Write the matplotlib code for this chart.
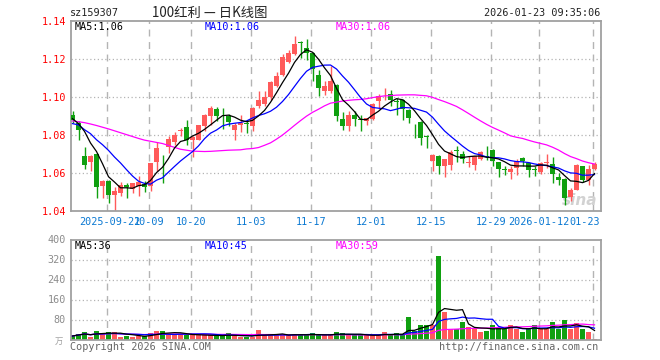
import numpy as np
import pandas as pd
import matplotlib
matplotlib.use("Agg")
import matplotlib.pyplot as plt

# daily candles (2025-09-12 .. 2026-01-23), index = trading day
opens = [1.0907, 1.0863, 1.0691, 1.0656, 1.0702, 1.0530, 1.0560, 1.0482, 1.0493, 1.0539,
         1.0516, 1.0530, 1.0544, 1.0530, 1.0656, 1.0691, 1.0735, 1.0765, 1.0820, 1.0842,
         1.0775, 1.0775, 1.0846, 1.0898, 1.0937, 1.0912, 1.0898, 1.0825, 1.0853, 1.0861,
         1.0846, 1.0954, 1.0965, 1.0998, 1.1056, 1.1118, 1.1182, 1.1226, 1.1290, 1.1258,
         1.1232, 1.1118, 1.1030, 1.1033, 1.1065, 1.0886, 1.0846, 1.0905, 1.0883, 1.0872,
         1.0886, 1.0977, 1.1019, 1.1018, 1.0979, 1.0986, 1.0933, 1.0855, 1.0867, 1.0795,
         1.0661, 1.0691, 1.0635, 1.0644, 1.0720, 1.0702, 1.0654, 1.0644, 1.0674, 1.0689,
         1.0723, 1.0656, 1.0619, 1.0604, 1.0626, 1.0679, 1.0653, 1.0619, 1.0604, 1.0654,
         1.0649, 1.0579, 1.0570, 1.0474, 1.0512, 1.0635, 1.0561, 1.0621]
highs = [1.0925, 1.0872, 1.0735, 1.0695, 1.0705, 1.0562, 1.0565, 1.0526, 1.0551, 1.0547,
         1.0550, 1.0582, 1.0556, 1.0655, 1.0763, 1.0693, 1.0793, 1.0818, 1.0838, 1.0877,
         1.0793, 1.0855, 1.0910, 1.0954, 1.0947, 1.0944, 1.0909, 1.0863, 1.0905, 1.0881,
         1.0946, 1.1030, 1.1030, 1.1082, 1.1132, 1.1226, 1.1249, 1.1319, 1.1296, 1.1305,
         1.1235, 1.1144, 1.1082, 1.1161, 1.1070, 1.0921, 1.0925, 1.0925, 1.0907, 1.0890,
         1.0968, 1.1018, 1.1047, 1.1035, 1.0995, 1.0988, 1.0935, 1.0856, 1.0872, 1.0802,
         1.0702, 1.0693, 1.0676, 1.0723, 1.0744, 1.0714, 1.0688, 1.0691, 1.0714, 1.0744,
         1.0725, 1.0658, 1.0635, 1.0635, 1.0674, 1.0684, 1.0656, 1.0635, 1.0656, 1.0700,
         1.0682, 1.0600, 1.0572, 1.0521, 1.0646, 1.0637, 1.0644, 1.0656]
lows = [1.0863, 1.0775, 1.0623, 1.0609, 1.0468, 1.0468, 1.0442, 1.0400, 1.0477, 1.0468,
        1.0495, 1.0477, 1.0498, 1.0507, 1.0609, 1.0547, 1.0705, 1.0749, 1.0795, 1.0749,
        1.0682, 1.0772, 1.0819, 1.0854, 1.0872, 1.0832, 1.0849, 1.0775, 1.0818, 1.0811,
        1.0819, 1.0942, 1.0951, 1.0986, 1.1051, 1.1112, 1.1179, 1.1223, 1.1205, 1.1196,
        1.1082, 1.1004, 1.1012, 1.1021, 1.0872, 1.0828, 1.0819, 1.0846, 1.0819, 1.0855,
        1.0881, 1.0937, 1.0986, 1.0954, 1.0907, 1.0881, 1.0863, 1.0784, 1.0749, 1.0732,
        1.0609, 1.0596, 1.0579, 1.0618, 1.0656, 1.0653, 1.0632, 1.0618, 1.0670, 1.0670,
        1.0635, 1.0579, 1.0591, 1.0568, 1.0591, 1.0635, 1.0579, 1.0586, 1.0596, 1.0626,
        1.0547, 1.0539, 1.0433, 1.0451, 1.0509, 1.0553, 1.0539, 1.0618]
closes = [1.0881, 1.0825, 1.0644, 1.0691, 1.0525, 1.0560, 1.0482, 1.0504, 1.0539, 1.0526,
          1.0547, 1.0551, 1.0526, 1.0653, 1.0733, 1.0688, 1.0781, 1.0802, 1.0825, 1.0775,
          1.0790, 1.0853, 1.0905, 1.0944, 1.0898, 1.0909, 1.0867, 1.0853, 1.0863, 1.0858,
          1.0944, 1.0984, 1.0998, 1.1077, 1.1109, 1.1211, 1.1232, 1.1281, 1.1286, 1.1232,
          1.1147, 1.1047, 1.1056, 1.1082, 1.0898, 1.0846, 1.0904, 1.0886, 1.0879, 1.0888,
          1.0965, 1.1007, 1.1023, 1.0986, 1.0975, 1.0937, 1.0889, 1.0851, 1.0782, 1.0791,
          1.0696, 1.0635, 1.0674, 1.0709, 1.0717, 1.0674, 1.0656, 1.0688, 1.0711, 1.0686,
          1.0661, 1.0623, 1.0616, 1.0621, 1.0665, 1.0661, 1.0618, 1.0616, 1.0653, 1.0656,
          1.0595, 1.0561, 1.0468, 1.0512, 1.0644, 1.0561, 1.0621, 1.0647]
# volume in 万
vols = [16, 24, 32, 13, 36, 24, 32, 32, 13, 16, 13, 16, 16, 27, 36, 36, 24, 24, 24, 19,
        19, 19, 19, 19, 16, 16, 27, 16, 13, 13, 13, 40, 19, 19, 19, 24, 19, 24, 19, 19,
        27, 19, 19, 19, 32, 27, 19, 19, 19, 19, 19, 19, 32, 19, 27, 19, 92, 37, 60, 60,
        60, 336, 113, 43, 43, 72, 51, 43, 32, 37, 60, 53, 43, 60, 43, 32, 47, 60, 43, 43,
        72, 43, 80, 43, 67, 43, 32, 5]

# MA values at the left edge need days before the window, so read those off the chart
ma5_head = [1.0886, 1.0860, 1.0819, 1.0758]
ma10_head = [1.0860, 1.0853, 1.0828, 1.0807, 1.0775, 1.0749, 1.0719, 1.0684, 1.0653]
ma30_head = [1.0874, 1.0870, 1.0865, 1.0858, 1.0850, 1.0841, 1.0832, 1.0822, 1.0812, 1.0802,
             1.0792, 1.0782, 1.0773, 1.0767, 1.0761, 1.0755, 1.0745, 1.0735, 1.0725, 1.0720,
             1.0715, 1.0714, 1.0713, 1.0714, 1.0716, 1.0718, 1.0720, 1.0721, 1.0722]

tick_idx = [6, 13, 20, 30, 40, 50, 60, 70, 78, 87]
tick_lab = ['2025-09-22', '10-09', '10-20', '11-03', '11-17', '12-01', '12-15', '12-29',
            '2026-01-12', '01-23']
price_ticks = [1.04, 1.06, 1.08, 1.10, 1.12, 1.14]
vol_ticks = [80, 160, 240, 320, 400]
ma_txt = ['MA5:1.06', 'MA10:1.06', 'MA30:1.06']
vma_txt = ['MA5:36', 'MA10:45', 'MA30:59']

RED = '#ff5a5a'
GRN = '#10a010'
GRID = '#b4b4b4'
FRAME = '#a0a0a0'
MONO = 'DejaVu Sans Mono'

o = np.array(opens); h = np.array(highs); l = np.array(lows); c = np.array(closes)
v = np.array(vols, dtype=float)
n = len(c)
x = np.arange(n)
up = c >= o
cols = np.where(up, RED, GRN)

cs = pd.Series(c)
ma5 = cs.rolling(5).mean().values
ma5[:4] = ma5_head
ma10 = cs.rolling(10).mean().values
ma10[:9] = ma10_head
ma30 = cs.rolling(30).mean().values
ma30[:29] = ma30_head

vs = pd.Series(v)
vma5 = vs.rolling(5, min_periods=1).mean().values
vma10 = vs.rolling(10, min_periods=1).mean().values
vma30 = vs.rolling(30, min_periods=1).mean().values

W, H = 660, 360
fig = plt.figure(figsize=(W / 100, H / 100), dpi=100)
fig.patch.set_facecolor('white')


def put(px, py, s, **kw):
    fig.text(px / W, 1 - py / H, s, **kw)


def frame(ax):
    for sp in ax.spines.values():
        sp.set_color(FRAME)
        sp.set_linewidth(1.3)
    ax.set_xticks([])
    ax.set_yticks([])
    ax.set_xlim(-0.25, 88.08)


ax1 = fig.add_axes([71 / W, 1 - 211 / H, 530 / W, 190 / H])
ax2 = fig.add_axes([71 / W, 1 - 340 / H, 530 / W, 100 / H])
frame(ax1)
frame(ax2)
ax1.set_ylim(1.04, 1.14)
ax2.set_ylim(0, 400)

# grids
for lv in price_ticks[1:-1]:
    ax1.axhline(lv, color=GRID, lw=0.9, ls=(0, (1, 2)), zorder=0)
for lv in vol_ticks[:-1]:
    ax2.axhline(lv, color=GRID, lw=0.9, ls=(0, (1, 2)), zorder=0)
for ti in tick_idx:
    ax1.axvline(ti - 0.3, color=GRID, lw=1.0, ls=(0, (5, 4)), zorder=0)
    ax2.axvline(ti - 0.3, color=GRID, lw=1.0, ls=(0, (5, 4)), zorder=0)

# candles
ax1.vlines(x, l, h, colors=cols, lw=1.0, zorder=2)
body = np.maximum(np.abs(c - o), 0.0003)
ax1.bar(x, body, bottom=np.minimum(o, c), width=0.78, color=cols, lw=0, zorder=3)
ax1.plot(x, ma30, color='#ff00ff', lw=0.9, zorder=4)
ax1.plot(x, ma10, color='#0000ff', lw=0.9, zorder=4)
ax1.plot(x, ma5, color='black', lw=0.9, zorder=4)

# volume
ax2.bar(x, v, width=0.83, color=cols, lw=0, zorder=2)
ax2.plot(x, vma30, color='#ff00ff', lw=0.9, zorder=4)
ax2.plot(x, vma10, color='#0000ff', lw=0.9, zorder=4)
ax2.plot(x, vma5, color='black', lw=0.9, zorder=4)

# sina watermark
ax1.text(84.5, 1.0455, 'sina', fontsize=11, fontstyle='italic', fontweight='bold',
         color='#d2d2d2', ha='center', va='center', zorder=1)

fs = 7.3
# header
put(70, 13, 'sz159307', fontsize=fs, family=MONO, va='center', color='#222222')
put(152, 13, '100红利 — 日K线图', fontsize=9.6, family=['Noto Sans CJK SC', 'DejaVu Sans'],
    va='center', color='#222222')
put(600, 13, '2026-01-23 09:35:06', fontsize=fs, family=MONO, va='center', ha='right',
    color='#222222')

# price axis labels
for lv in price_ticks:
    py = 211 - (lv - 1.04) / 0.10 * 190
    put(66, py + 1, f'{lv:.2f}', fontsize=fs, family=MONO, ha='right', va='center', color='red')
ma_cols = ['black', '#0000ff', '#ff00ff']
for s, px, col in zip(ma_txt, [75, 205, 336], ma_cols):
    put(px, 27, s, fontsize=fs, family=MONO, va='center', color=col)

# date labels (the reference crowds a few of them together)
for ti, lab in zip(tick_idx, tick_lab):
    px = 72.5 + 6 * ti - 1.8
    if ti == tick_idx[-1]:
        put(600, 222, lab, fontsize=fs, family=MONO, ha='right', va='center', color='#0a78d2')
    elif ti == tick_idx[0]:
        put(px + 3, 222, lab, fontsize=fs, family=MONO, ha='center', va='center', color='#0a78d2')
    else:
        put(px, 222, lab, fontsize=fs, family=MONO, ha='center', va='center', color='#0a78d2')

# volume axis labels
for lv in vol_ticks:
    py = 340 - lv / 400 * 100
    put(66, py, str(lv), fontsize=fs, family=MONO, ha='right', va='center', color='#8c8c8c')
put(63, 341, '万', fontsize=6, family=['Noto Sans CJK SC', 'DejaVu Sans'], ha='right',
    va='center', color='#a0a0a0')
for s, px, col in zip(vma_txt, [75, 205, 336], ma_cols):
    put(px, 246, s, fontsize=fs, family=MONO, va='center', color=col)

put(70, 347, 'Copyright 2026 SINA.COM', fontsize=fs, family=MONO, va='center', color='#666666')
put(598, 347, 'http://finance.sina.com.cn', fontsize=fs, family=MONO, va='center', ha='right',
    color='#666666')

fig.savefig('out.png', dpi=100)
